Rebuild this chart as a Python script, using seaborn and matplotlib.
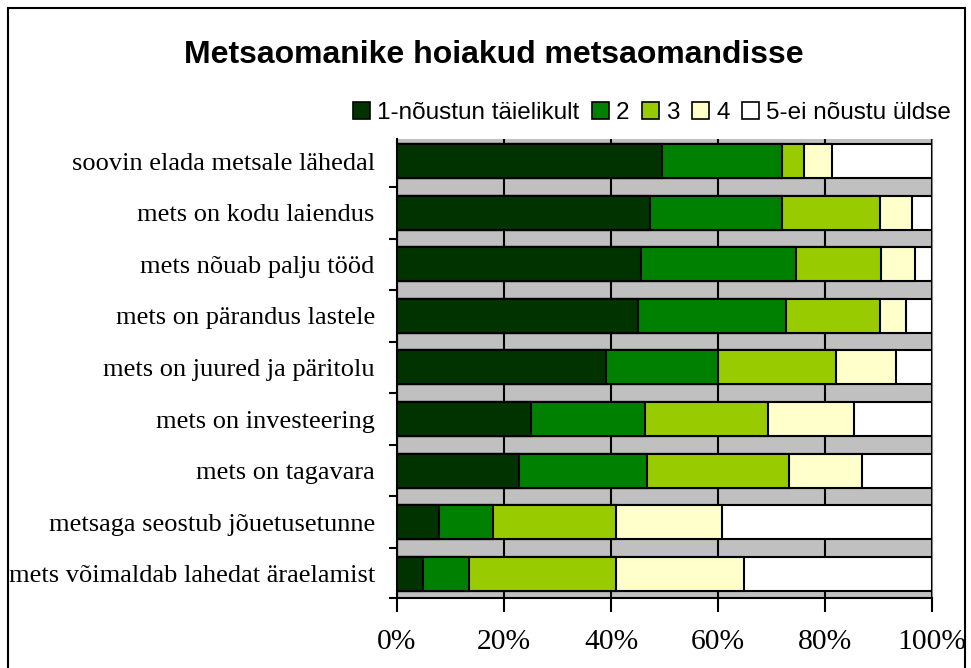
import numpy as np
import pandas as pd
import matplotlib
matplotlib.use("Agg")
import matplotlib.pyplot as plt
import seaborn as sns
from matplotlib.patches import Patch, Rectangle
from matplotlib.ticker import FixedLocator, FuncFormatter

# vastused protsentides (loetud jooniselt)
vaited = ["soovin elada metsale lähedal", "mets on kodu laiendus", "mets nõuab palju tööd",
          "mets on pärandus lastele", "mets on juured ja päritolu", "mets on investeering",
          "mets on tagavara", "metsaga seostub jõuetusetunne", "mets võimaldab lahedat äraelamist"]
vastus1 = [49.6, 47.3, 45.6, 45.1, 39.1, 25.1, 22.8, 7.8, 4.9]
vastus2 = [22.3, 24.6, 28.9, 27.7, 20.9, 21.3, 23.9, 10.1, 8.6]
vastus3 = [4.2, 18.4, 16.0, 17.5, 22.0, 23.0, 26.5, 23.1, 27.5]
vastus4 = [5.2, 5.9, 6.4, 4.8, 11.2, 16.0, 13.8, 19.8, 23.9]
vastus5 = [18.7, 3.8, 3.1, 4.9, 6.8, 14.6, 13.0, 39.2, 35.1]
sildid = ["1-nõustun täielikult", "2", "3", "4", "5-ei nõustu üldse"]
varvid = ["#003300", "#008000", "#99CC00", "#FFFFCC", "#FFFFFF"]

df = pd.DataFrame({"vaide": vaited, "1": vastus1, "2": vastus2, "3": vastus3,
                   "4": vastus4, "5": vastus5})
df = df.set_index("vaide")
kum = df.cumsum(axis=1)

fig = plt.figure(figsize=(9.71, 6.68), dpi=100)
ax = fig.add_axes([397/971, 1 - 598/668, 535/971, 459/668])
ax.set_facecolor("#C0C0C0")

# kuhjatud tulbad: pikim enne, lühemad peale
for i in range(4, -1, -1):
    sns.barplot(x=kum.iloc[:, i].values, y=kum.index, orient="h", color=varvid[i],
                width=0.66, edgecolor="black", linewidth=1.5, saturation=1, ax=ax, zorder=3)

ax.set_xlim(0, 100)
ax.set_ylim(8.47, -0.43)
ax.set_axisbelow(True)
ax.xaxis.set_major_locator(FixedLocator([0, 20, 40, 60, 80, 100]))
ax.xaxis.set_major_formatter(FuncFormatter(lambda v, p: "%d%%" % v))
ax.grid(axis="x", color="black", linewidth=1.5, zorder=0)
ax.grid(axis="y", visible=False)
ax.set_xlabel("")
ax.set_ylabel("")

ax.spines["top"].set_visible(False)
ax.spines["right"].set_color("#808080")
ax.spines["left"].set_linewidth(1.5)
ax.spines["bottom"].set_linewidth(1.5)

ax.tick_params(axis="x", direction="out", length=10, width=1.5, pad=12)
ax.tick_params(axis="y", which="major", length=0, pad=16)
ax.yaxis.set_minor_locator(FixedLocator([k + 0.5 for k in range(8)] + [8.47]))
ax.tick_params(axis="y", which="minor", direction="out", length=6, width=1.5)

for lbl in ax.get_yticklabels():
    lbl.set_fontfamily("Liberation Serif")
    lbl.set_fontsize(19)
for lbl in ax.get_xticklabels():
    lbl.set_fontfamily("Liberation Serif")
    lbl.set_fontsize(21.3)

fig.text(494/971, 1 - 55/668, "Metsaomanike hoiakud metsaomandisse", ha="center", va="center",
         fontsize=23, fontweight="bold", family="Liberation Sans")

kastid = [Patch(facecolor=varvid[i], edgecolor="black", linewidth=1.2, label=sildid[i]) for i in range(5)]
fig.legend(handles=kastid, loc="center", bbox_to_anchor=(652/971, 1 - 113/668), ncol=5,
           frameon=False, handlelength=0.7, handleheight=0.7, handletextpad=0.3,
           columnspacing=0.5, prop={"family": "Liberation Sans", "size": 17.5})

# ümbritsev raam
fig.patches.append(Rectangle((8/971, -0.05), 957/971, 1.05 - 8/668, transform=fig.transFigure,
                             fill=False, edgecolor="black", linewidth=1.5))

fig.savefig("out.png", dpi=100)
